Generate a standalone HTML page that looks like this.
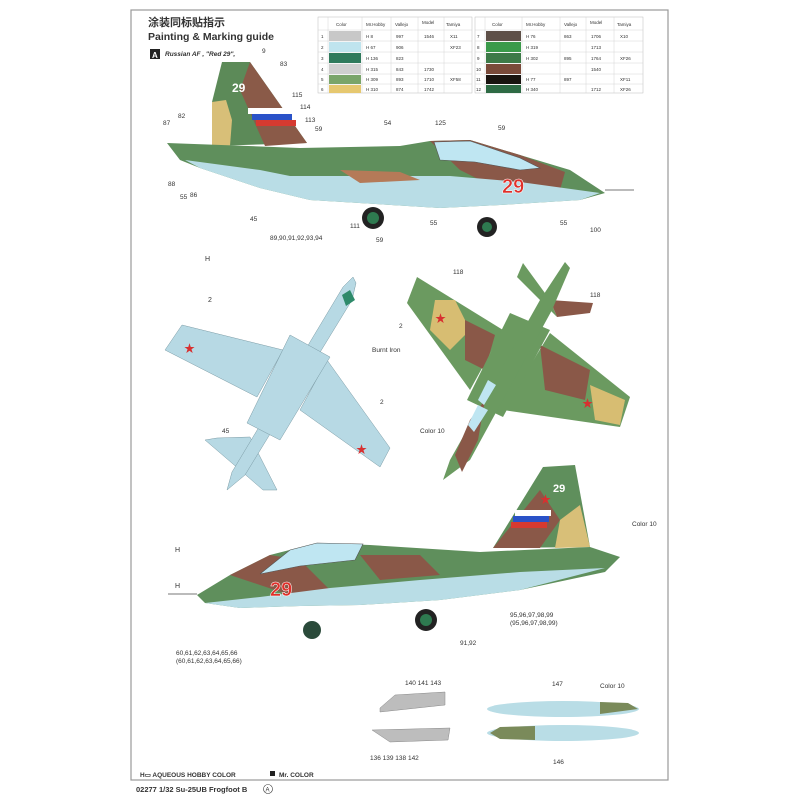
<!DOCTYPE html>
<html><head><meta charset="utf-8"><style>
html,body{margin:0;padding:0;background:#fff;width:800px;height:800px;overflow:hidden}
svg{display:block}
text{font-family:"Liberation Sans","Noto Sans CJK SC",sans-serif;fill:#333}
.n{font-size:6.5px}
</style></head><body>
<svg width="800" height="800" viewBox="0 0 800 800" xmlns="http://www.w3.org/2000/svg">
<rect x="131" y="10" width="537" height="770" fill="none" stroke="#999" stroke-width="1.2"/>
<text x="148" y="26" font-size="11" font-weight="bold" fill="#333">涂装同标贴指示</text>
<text x="148" y="40" font-size="10.5" font-weight="bold" fill="#222">Painting &amp; Marking guide</text>
<rect x="150" y="49" width="10" height="10" fill="#222"/><text x="152" y="58" font-size="8" font-weight="bold" style="fill:#fff">A</text>
<text x="165" y="56" font-size="6.5" font-style="italic" font-weight="bold">Russian AF , "Red 29",</text>

<!-- tables -->
<g font-size="4.5">
<rect x="318" y="17" width="154" height="76" fill="#fff" stroke="#bbb" stroke-width=".5"/>
<rect x="475" y="17" width="168" height="76" fill="#fff" stroke="#bbb" stroke-width=".5"/>
<g stroke="#ccc" stroke-width=".4">
<line x1="318" y1="30" x2="472" y2="30"/><line x1="475" y1="30" x2="643" y2="30"/>
<line x1="318" y1="41" x2="472" y2="41"/><line x1="475" y1="41" x2="643" y2="41"/>
<line x1="318" y1="52" x2="472" y2="52"/><line x1="475" y1="52" x2="643" y2="52"/>
<line x1="318" y1="63" x2="472" y2="63"/><line x1="475" y1="63" x2="643" y2="63"/>
<line x1="318" y1="74" x2="472" y2="74"/><line x1="475" y1="74" x2="643" y2="74"/>
<line x1="318" y1="84" x2="472" y2="84"/><line x1="475" y1="84" x2="643" y2="84"/>
<line x1="328" y1="17" x2="328" y2="93"/><line x1="362" y1="17" x2="362" y2="93"/><line x1="391" y1="17" x2="391" y2="93"/><line x1="418" y1="17" x2="418" y2="93"/><line x1="444" y1="17" x2="444" y2="93"/>
<line x1="485" y1="17" x2="485" y2="93"/><line x1="522" y1="17" x2="522" y2="93"/><line x1="560" y1="17" x2="560" y2="93"/><line x1="586" y1="17" x2="586" y2="93"/><line x1="614" y1="17" x2="614" y2="93"/>
</g>
<rect x="329" y="31" width="32" height="10" fill="#c8c8c8"/>
<rect x="329" y="42" width="32" height="10" fill="#bfe4ee"/>
<rect x="329" y="53" width="32" height="10" fill="#2f7a5c"/>
<rect x="329" y="64" width="32" height="10" fill="#cfcfcf"/>
<rect x="329" y="75" width="32" height="9" fill="#7aa56a"/>
<rect x="329" y="85" width="32" height="8" fill="#e6c870"/>
<rect x="486" y="31" width="35" height="10" fill="#5e5048"/>
<rect x="486" y="42" width="35" height="10" fill="#3a9a4a"/>
<rect x="486" y="53" width="35" height="10" fill="#3d7a48"/>
<rect x="486" y="64" width="35" height="10" fill="#7a4a3a"/>
<rect x="486" y="75" width="35" height="9" fill="#1a1410"/>
<rect x="486" y="85" width="35" height="8" fill="#2e6a44"/>
<text x="336" y="26">Color</text><text x="366" y="26">Mr.Hobby</text><text x="395" y="26">Vallejo</text><text x="422" y="24">Model</text><text x="446" y="26">Tamiya</text>
<text x="492" y="26">Color</text><text x="526" y="26">Mr.Hobby</text><text x="564" y="26">Vallejo</text><text x="590" y="24">Model</text><text x="617" y="26">Tamiya</text>
<text x="321" y="38">1</text><text x="321" y="49">2</text><text x="321" y="60">3</text><text x="321" y="71">4</text><text x="321" y="81">5</text><text x="321" y="91">6</text>
<text x="477" y="38">7</text><text x="477" y="49">8</text><text x="477" y="60">9</text><text x="476" y="71">10</text><text x="476" y="81">11</text><text x="476" y="91">12</text>
<text x="366" y="38">H 8</text><text x="366" y="49">H 67</text><text x="366" y="60">H 136</text><text x="366" y="71">H 315</text><text x="366" y="81">H 309</text><text x="366" y="91">H 310</text>
<text x="526" y="38">H 76</text><text x="526" y="49">H 319</text><text x="526" y="60">H 302</text><text x="526" y="81">H 77</text><text x="526" y="91">H 340</text>
<text x="396" y="38">997</text><text x="396" y="49">906</text><text x="396" y="60">823</text><text x="396" y="71">843</text><text x="396" y="81">893</text><text x="396" y="91">874</text>
<text x="424" y="38">1546</text><text x="424" y="71">1730</text><text x="424" y="81">1710</text><text x="424" y="91">1742</text>
<text x="450" y="38">X11</text><text x="450" y="49">XF23</text><text x="450" y="81">XF58</text>
<text x="564" y="38">863</text><text x="564" y="60">895</text><text x="564" y="81">897</text>
<text x="591" y="38">1706</text><text x="591" y="49">1713</text><text x="591" y="60">1764</text><text x="591" y="71">1540</text><text x="591" y="91">1712</text>
<text x="620" y="38">X10</text><text x="620" y="60">XF26</text><text x="620" y="81">XF11</text><text x="620" y="91">XF26</text>
</g>

<!-- top side view -->
<g>
<polygon points="212,102 222,62 250,62 307,143 212,146" fill="#5c8a58"/>
<polygon points="250,62 307,143 265,146 240,90" fill="#8a5a48"/>
<polygon points="212,102 226,100 232,120 230,146 212,146" fill="#d8bf78"/>
<rect x="248" y="108" width="40" height="6" fill="#fff"/><rect x="252" y="114" width="40" height="6" fill="#2a52c8"/><rect x="256" y="120" width="40" height="6" fill="#d63a30"/>
<text x="232" y="92" font-size="12" font-weight="bold" style="fill:#fff">29</text>
<path d="M167,143 L300,148 L400,146 L430,141 L470,140 L520,155 L570,170 L605,193 L580,200 L500,205 L440,208 L310,200 L260,188 L200,168 L180,160 Z" fill="#5f8f5c"/>
<path d="M430,141 L470,140 L520,155 L565,172 L560,190 L500,190 L460,170 Z" fill="#8a5848"/>
<path d="M290,176 L450,176 L520,182 L600,193 L580,200 L500,205 L440,208 L310,200 L260,188 L200,168 L185,160 L260,170 Z" fill="#b9dde6"/>
<path d="M434,142 L470,141 L520,158 L540,168 L520,170 L475,162 L440,160 Z" fill="#bfe6f2" stroke="#555" stroke-width=".6"/>
<path d="M340,170 L400,172 L420,180 L360,183 Z" fill="#b57a58"/>
<text x="502" y="193" font-size="20" font-weight="bold" style="fill:#e0302a;stroke:#fff;stroke-width:.5">29</text>
<circle cx="373" cy="218" r="11" fill="#222"/><circle cx="373" cy="218" r="6" fill="#2e7a50"/>
<circle cx="487" cy="227" r="10" fill="#222"/><circle cx="487" cy="227" r="5" fill="#2e7a50"/>
<line x1="605" y1="190" x2="634" y2="190" stroke="#777"/>
</g>

<!-- left plan view (underside) -->
<g fill="#b7d9e4" stroke="#7a9aa4" stroke-width=".5">
<polygon points="205,440 217,438 250,437 277,490 263,490 240,470"/>
<polygon points="182,325 283,350 257,397 165,350"/>
<polygon points="327,360 390,448 380,467 300,410"/>
<polygon points="227,490 232,472 343,287 353,277 356,283 352,300 245,475"/>
<polygon points="290,335 330,357 280,440 247,423"/>
</g>
<polygon points="342,295 350,290 355,300 346,306" fill="#2e8a6a"/>
<text x="184" y="352" font-size="11" style="fill:#d83030">★</text>
<text x="356" y="453" font-size="11" style="fill:#d83030">★</text>

<!-- right plan view (upper) -->
<g>
<polygon points="417,277 503,330 470,390 407,303" fill="#6b9a60"/>
<polygon points="435,300 455,300 470,330 450,350 430,330" fill="#d7bd72"/>
<polygon points="465,320 495,335 485,370 465,360" fill="#8a5848"/>
<polygon points="550,333 630,397 620,427 503,410" fill="#6b9a60"/>
<polygon points="540,345 590,370 585,400 545,390" fill="#8a5848"/>
<polygon points="590,385 625,400 620,425 595,420" fill="#d7bd72"/>
<polygon points="523,263 550,300 557,317 517,277" fill="#6b9a60"/>
<polygon points="550,300 593,303 590,313 557,317" fill="#8a5848"/>
<polygon points="510,313 550,330 503,417 467,400" fill="#6b9a60"/>
<polygon points="443,480 450,460 540,300 565,262 570,268 552,310 470,460" fill="#6b9a60"/>
<polygon points="455,455 470,420 485,400 478,440 462,472" fill="#8a5848"/>
<polygon points="468,425 478,405 488,410 474,432" fill="#bfe6f2"/>
<polygon points="478,400 488,380 496,385 484,405" fill="#bfe6f2"/>
<text x="435" y="322" font-size="11" style="fill:#d83030">★</text>
<text x="582" y="407" font-size="11" style="fill:#d83030">★</text>
</g>

<!-- bottom side view -->
<g>
<polygon points="493,548 543,467 575,465 590,547" fill="#5f8f5c"/>
<polygon points="493,548 540,490 560,520 540,548" fill="#8a5848"/>
<polygon points="560,520 580,505 590,547 555,548" fill="#d8bf78"/>
<rect x="515" y="510" width="36" height="6" fill="#fff"/><rect x="513" y="516" width="36" height="6" fill="#2a52c8"/><rect x="511" y="522" width="36" height="6" fill="#d63a30"/>
<text x="553" y="492" font-size="11" font-weight="bold" style="fill:#fff">29</text>
<text x="540" y="503" font-size="11" style="fill:#d83030">★</text>
<path d="M197,595 L230,575 L270,555 L317,543 L370,545 L480,552 L590,547 L620,557 L605,572 L520,590 L440,600 L360,605 L300,606 L240,608 L205,603 Z" fill="#5f8f5c"/>
<path d="M230,575 L270,555 L300,560 L330,590 L290,595 Z" fill="#8a5848"/>
<path d="M360,555 L420,555 L440,575 L380,580 Z" fill="#8a5848"/>
<path d="M330,588 L420,580 L520,572 L605,568 L520,590 L440,600 L360,605 L300,606 L240,608 L205,603 L260,597 Z" fill="#b9dde6"/>
<path d="M260,574 L290,550 L317,543 L363,544 L355,560 L300,566 Z" fill="#bfe6f2" stroke="#555" stroke-width=".6"/>
<text x="270" y="596" font-size="20" font-weight="bold" style="fill:#e0302a;stroke:#fff;stroke-width:.5">29</text>
<circle cx="312" cy="630" r="9" fill="#2a4a3a"/>
<circle cx="426" cy="620" r="11" fill="#222"/><circle cx="426" cy="620" r="6" fill="#2e7a50"/>
<line x1="168" y1="594" x2="197" y2="594" stroke="#777"/>
</g>

<!-- pylons and tanks -->
<polygon points="380,708 395,695 445,692 445,705 380,712" fill="#bdbdbd" stroke="#888" stroke-width=".5"/>
<polygon points="372,730 450,728 448,740 390,742" fill="#bdbdbd" stroke="#888" stroke-width=".5"/>
<ellipse cx="563" cy="709" rx="76" ry="8" fill="#b9dde6"/>
<path d="M600,702 L628,703 L638,709 L600,714 Z" fill="#7a8a5a"/>
<ellipse cx="563" cy="733" rx="76" ry="8" fill="#b9dde6"/>
<path d="M490,733 L500,727 L535,726 L535,740 L500,739 Z" fill="#7a8a5a"/>

<text x="140" y="777" font-size="6.5" font-weight="bold">H▭ AQUEOUS HOBBY COLOR</text>
<rect x="270" y="771" width="5" height="5" fill="#222"/><text x="279" y="777" font-size="6.5" font-weight="bold">Mr. COLOR</text>
<text x="136" y="792" font-size="7.5" font-weight="bold">02277 1/32 Su-25UB Frogfoot B</text>
<circle cx="268" cy="789" r="4.5" fill="none" stroke="#333" stroke-width=".6"/><text x="265.5" y="791.5" font-size="6">A</text>

<!-- part numbers sample -->
<g class="n">
<text x="163" y="125">87</text><text x="178" y="118">82</text><text x="262" y="53">9</text><text x="280" y="66">83</text><text x="292" y="97">115</text><text x="300" y="109">114</text><text x="305" y="122">113</text><text x="315" y="131">59</text><text x="384" y="125">54</text><text x="435" y="125">125</text><text x="498" y="130">59</text>
<text x="168" y="186">88</text><text x="190" y="197">86</text><text x="180" y="199">55</text><text x="250" y="221">45</text><text x="270" y="240">89,90,91,92,93,94</text><text x="350" y="228">111</text><text x="376" y="242">59</text><text x="430" y="225">55</text><text x="560" y="225">55</text><text x="590" y="232">100</text>
<text x="205" y="261" font-size="7">H</text><text x="208" y="302" font-size="7">2</text><text x="222" y="433">45</text><text x="380" y="404">2</text><text x="399" y="328">2</text><text x="453" y="274">118</text><text x="590" y="297">118</text><text x="420" y="433">Color 10</text><text x="372" y="352">Burnt Iron</text>
<text x="175" y="588" font-size="7">H</text><text x="175" y="552" font-size="7">H</text><text x="176" y="655">60,61,62,63,64,65,66</text><text x="176" y="663">(60,61,62,63,64,65,66)</text><text x="510" y="617">95,96,97,98,99</text><text x="510" y="625">(95,96,97,98,99)</text><text x="632" y="526">Color 10</text><text x="460" y="645">91,92</text>
<text x="600" y="688">Color 10</text><text x="552" y="686">147</text><text x="405" y="685">140 141 143</text><text x="370" y="760">136 139 138 142</text><text x="553" y="764">146</text>
</g>
</svg>
</body></html>
